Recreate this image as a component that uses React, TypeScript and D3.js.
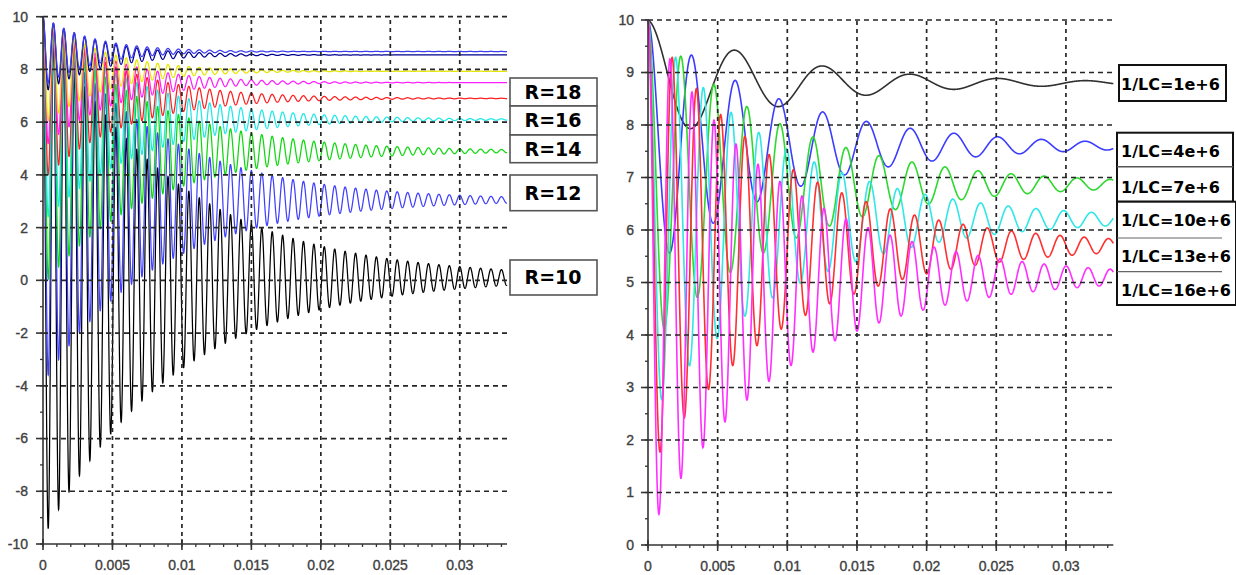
import React from 'react';
import * as d3 from 'd3';

// shared time axis (seconds)
const tMax = 0.0334;
const xTicks = [0, 0.005, 0.01, 0.015, 0.02, 0.025, 0.03];
const xTickLabels = ['0', '0.005', '0.01', '0.015', '0.02', '0.025', '0.03'];

// left panel: responses for several R, all starting at 10
const leftColors = ['#000000', '#4040ff', '#10d810', '#20e8e8', '#ff2020', '#ff20ff', '#e6e600', '#000090', '#3c3cf0'];
const leftFinal = [0.1, 3.05, 4.9, 6.1, 6.9, 7.5, 7.93, 8.55, 8.68];
const leftTau = [0.0095, 0.0082, 0.0075, 0.0066, 0.0055, 0.0047, 0.0043, 0.004, 0.0037];
const leftPeriod = 0.00075;
const leftYTicks = [-10, -8, -6, -4, -2, 0, 2, 4, 6, 8, 10];
const leftLabels = ['R=18', 'R=16', 'R=14', 'R=12', 'R=10'];

// right panel: responses for several 1/LC
const rightColors = ['#303030', '#3c3cff', '#2ed82e', '#30e6e6', '#ff3030', '#ff30ff'];
const rightFinal = [8.8, 7.6, 6.87, 6.2, 5.7, 5.1];
const rightTau = [0.0096, 0.0096, 0.0095, 0.0096, 0.0096, 0.0096];
const rightPeriod = [0.0063, 0.00314, 0.00237, 0.00199, 0.00174, 0.00158];
const rightYTicks = [0, 1, 2, 3, 4, 5, 6, 7, 8, 9, 10];
const rightLabels = ['1/LC=1e+6', '1/LC=4e+6', '1/LC=7e+6', '1/LC=10e+6', '1/LC=13e+6', '1/LC=16e+6'];

const startValue = 10;

function response(final: number, tau: number, period: number, n: number) {
  const pts: [number, number][] = [];
  for (let i = 0; i <= n; i++) {
    const t = (tMax * i) / n;
    pts.push([t, final + (startValue - final) * Math.exp(-t / tau) * Math.cos((2 * Math.PI * t) / period)]);
  }
  return pts;
}

const tickFont = {
  fontFamily: '"Liberation Sans", Arial, sans-serif',
  fontSize: 14,
  fill: '#404040',
  stroke: '#404040',
  strokeWidth: 0.35,
};

function Panel({ x, y, yTicks, minorStep, labelX, children }: any) {
  const x0 = x.range()[0];
  const x1 = x.range()[1];
  const yb = y.range()[0];
  const yt = y.range()[1];
  const [d0, d1] = y.domain();
  const minors: number[] = [];
  for (let v = d0; v <= d1 + 1e-9; v += minorStep) minors.push(v);
  const xMinors = d3.range(0, tMax, 0.001);
  return (
    <g>
      {children}
      {/* grid */}
      {yTicks.slice(1).map((v: number) => (
        <line key={'h' + v} x1={x0} x2={x1} y1={y(v)} y2={y(v)} stroke="#262626" strokeWidth={1.7} strokeDasharray="5,4" />
      ))}
      {xTicks.slice(1).map((v) => (
        <line key={'v' + v} x1={x(v)} x2={x(v)} y1={yb} y2={yt} stroke="#262626" strokeWidth={1.7} strokeDasharray="4,4" />
      ))}
      {/* axes */}
      <line x1={x0} x2={x0} y1={yb} y2={yt} stroke="#333" strokeWidth={1.6} />
      <line x1={x0} x2={x1} y1={yb} y2={yb} stroke="#333" strokeWidth={1.6} />
      {minors.map((v) => (
        <line key={'ym' + v} x1={x0 - 3} x2={x0} y1={y(v)} y2={y(v)} stroke="#333" strokeWidth={1.3} />
      ))}
      {yTicks.map((v: number) => (
        <g key={'yt' + v}>
          <line x1={x0 - 7} x2={x0} y1={y(v)} y2={y(v)} stroke="#333" strokeWidth={1.6} />
          <text x={labelX} y={y(v)} dy="0.35em" textAnchor="end" {...tickFont}>{String(v)}</text>
        </g>
      ))}
      {xMinors.map((v) => (
        <line key={'xm' + v} x1={x(v)} x2={x(v)} y1={yb} y2={yb + 3} stroke="#333" strokeWidth={1.3} />
      ))}
      {xTicks.map((v, i) => (
        <g key={'xt' + v}>
          <line x1={x(v)} x2={x(v)} y1={yb - 5} y2={yb + 6} stroke="#333" strokeWidth={1.6} />
          <text x={x(v)} y={yb + 26} textAnchor="middle" {...tickFont}>{xTickLabels[i]}</text>
        </g>
      ))}
    </g>
  );
}

export default function App() {
  const xL = d3.scaleLinear().domain([0, tMax]).range([43, 507]);
  const yL = d3.scaleLinear().domain([-10, 10]).range([544, 16.7]);
  const xR = d3.scaleLinear().domain([0, tMax]).range([648, 1113.3]);
  const yR = d3.scaleLinear().domain([0, 10]).range([545, 20]);

  const lineL = d3.line<[number, number]>().x((d) => xL(d[0])).y((d) => yL(d[1]));
  const lineR = d3.line<[number, number]>().x((d) => xR(d[0])).y((d) => yR(d[1]));

  const leftPaths = leftFinal.map((f, i) => lineL(response(f, leftTau[i], leftPeriod, 5000)) as string);
  const rightPaths = rightFinal.map((f, i) => lineR(response(f, rightTau[i], rightPeriod[i], 2000)) as string);

  // legend layout
  const leftBoxes = [
    { y0: 78, y1: 106 },
    { y0: 106, y1: 135 },
    { y0: 135, y1: 162.7 },
    { y0: 175, y1: 210.7 },
    { y0: 260, y1: 295 },
  ];
  const rightTextY = [84, 151, 187, 220, 256, 290];
  const labelFont = { fontFamily: '"DejaVu Sans", sans-serif', fontWeight: 'bold' as const, fill: '#000' };

  return (
    <svg width={1236} height={575} style={{ position: 'absolute', left: 0, top: 0, background: '#fff' }}>
      <rect width={1236} height={575} fill="#fff" />
      <Panel x={xL} y={yL} yTicks={leftYTicks} minorStep={1} labelX={28}>
        <g fill="none" strokeWidth={1.25}>
          {leftPaths.map((p, i) => (
            <path key={i} d={p} stroke={leftColors[i]} />
          ))}
        </g>
      </Panel>
      <Panel x={xR} y={yR} yTicks={rightYTicks} minorStep={0.5} labelX={634}>
        <g fill="none" strokeWidth={1.6}>
          {rightPaths.map((p, i) => (
            <path key={i} d={p} stroke={rightColors[i]} />
          ))}
        </g>
      </Panel>

      {/* left legend boxes */}
      {leftLabels.map((lab, i) => (
        <g key={lab}>
          <rect x={510} y={leftBoxes[i].y0} width={87} height={leftBoxes[i].y1 - leftBoxes[i].y0} fill="#fff" stroke="#555" strokeWidth={1.6} />
          <text x={553} y={(leftBoxes[i].y0 + leftBoxes[i].y1) / 2} dy="0.36em" textAnchor="middle" fontSize={19} {...labelFont}>{lab}</text>
        </g>
      ))}

      {/* right legend boxes */}
      <rect x={1119} y={65} width={107} height={36} fill="#fff" stroke="#111" strokeWidth={2} />
      <rect x={1117} y={132.7} width={116} height={69} fill="#fff" stroke="#111" strokeWidth={2} />
      <line x1={1117} x2={1233} y1={166.7} y2={166.7} stroke="#555" strokeWidth={1.5} />
      <rect x={1117} y={201.7} width={119} height={103.3} fill="#fff" stroke="#111" strokeWidth={2} />
      <line x1={1117} x2={1222} y1={238} y2={238} stroke="#666" strokeWidth={1.2} />
      <line x1={1117} x2={1222} y1={271.7} y2={271.7} stroke="#666" strokeWidth={1.2} />
      {rightLabels.map((lab, i) => (
        <text key={lab} x={1121} y={rightTextY[i]} dy="0.36em" fontSize={16} {...labelFont}>{lab}</text>
      ))}
    </svg>
  );
}
